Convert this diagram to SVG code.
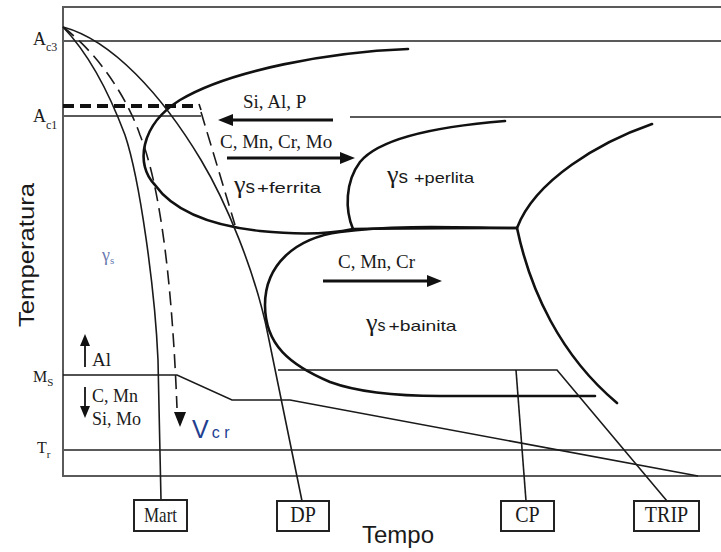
<svg xmlns="http://www.w3.org/2000/svg" width="721" height="552" viewBox="0 0 721 552">
<defs>
<style>
.frame{fill:none;stroke:#5a5a5a;stroke-width:2}
.thick{fill:none;stroke:#111;stroke-width:2.6;stroke-linecap:round}
.thin{fill:none;stroke:#1a1a1a;stroke-width:1.6}
.dash{fill:none;stroke:#1a1a1a;stroke-width:1.6;stroke-dasharray:14,7}
.arr{fill:none;stroke:#111;stroke-width:3}
.head{fill:#111}
.serif{font-family:"Liberation Serif","Times New Roman",serif;fill:#1a1a1a}
.sans{font-family:"Liberation Sans",Arial,sans-serif;fill:#1a1a1a}
.box{fill:#fff;stroke:#222;stroke-width:2}
</style>
</defs>
<rect width="721" height="552" fill="#fff"/>
<!-- frame and reference lines -->
<g id="frame">
<path class="frame" d="M721,7 H63 V476 H721"/>
<path class="frame" d="M63,41 H721"/>
<path class="frame" d="M63,116 H201"/>
<path class="frame" d="M350,117 H721"/>
<path class="frame" d="M63,450 H721"/>
</g>
<!-- transformation curves -->
<g id="curves">
<path class="thick" d="M408,49 C330,52 230,70 180,100 C140,125 135,165 155,185 C175,213 215,226 260,231 C300,235 330,234 353,229"/>
<path class="thick" d="M505,121 C430,127 378,140 360,162 C345,182 345,210 353,229"/>
<path class="thick" d="M353,229 C420,228 480,228 517,228"/>
<path class="thick" d="M517,228 C470,228 400,224 340,232 C295,238 265,265 265,305 C265,345 290,365 330,382 C360,393 400,396 440,396 L595,396"/>
<path class="thick" d="M652,124 C600,142 535,180 517,228 C530,290 560,355 617,403"/>
</g>
<!-- cooling paths / connectors -->
<g id="connectors">
<path d="M63,106 H197" fill="none" stroke="#111" stroke-width="4" stroke-dasharray="11,6"/>
<path d="M199,104 L201,110" fill="none" stroke="#111" stroke-width="1.6"/>
<path class="dash" d="M201,112 L235,225"/>
<path class="thin" d="M63,27 C112,40 162,95 201,160 C225,200 255,270 268,335 L302,501"/>
<path class="thin" d="M63,27 C90,55 110,95 125,135 C140,180 155,290 158,360 L161,500"/>
<path class="dash" d="M63,27 C100,55 128,100 140,135 C160,185 172,280 177,408"/>
<polygon class="head" points="174,412 186,412 180,427"/>
<path class="thin" d="M63,375 H177 L232,400 H290 L698,476"/>
<path class="thin" d="M278,370 H557 L667,501"/>
<path class="thin" d="M516,370 L526,501"/>
<!-- element arrows -->
<path class="arr" d="M333,120 H230"/>
<polygon class="head" points="218,120 233,114 233,126"/>
<path class="arr" d="M227,158 H342"/>
<polygon class="head" points="355,158 340,152 340,164"/>
<path class="arr" d="M323,281 H429"/>
<polygon class="head" points="442,281 427,275 427,287"/>
<path d="M85,367 V344" stroke="#111" stroke-width="1.8"/>
<polygon class="head" points="85,334 80,346 90,346"/>
<path d="M85,387 V408" stroke="#111" stroke-width="1.8"/>
<polygon class="head" points="85,418 80,406 90,406"/>
</g>
<!-- axis labels -->
<g id="labels">
<text class="serif" x="33" y="45" font-size="18">A<tspan font-size="12" dy="6">c3</tspan></text>
<text class="serif" x="33" y="122" font-size="18">A<tspan font-size="12" dy="7">c1</tspan></text>
<text class="serif" x="33" y="382" font-size="16">M<tspan font-size="11" dy="4">S</tspan></text>
<text class="serif" x="37" y="453" font-size="16">T<tspan font-size="11" dy="5">r</tspan></text>
<text class="sans" transform="translate(34,255) rotate(-90)" text-anchor="middle" font-size="22" textLength="144" lengthAdjust="spacingAndGlyphs">Temperatura</text>
<text class="sans" x="398" y="543" text-anchor="middle" font-size="24">Tempo</text>
<text class="serif" x="243" y="108" font-size="19">Si, Al, P</text>
<text class="serif" x="220" y="148" font-size="19">C, Mn, Cr, Mo</text>
<text class="serif" x="338" y="268" font-size="19">C, Mn, Cr</text>
<text class="serif" x="92" y="366" font-size="19">Al</text>
<text class="serif" x="92" y="402" font-size="18">C, Mn</text>
<text class="serif" x="92" y="425" font-size="18">Si, Mo</text>
<text class="serif" x="102" y="261" font-size="18" style="fill:#6a7bb0">γ<tspan font-size="11" dy="3">s</tspan></text>
<text class="serif" x="234" y="193" font-size="26">γ<tspan class="sans" font-size="19">s</tspan><tspan class="sans" font-size="15" dx="2" textLength="64" lengthAdjust="spacingAndGlyphs">+ferrita</tspan></text>
<text class="serif" x="387" y="183" font-size="26">γ<tspan class="sans" font-size="19">s</tspan><tspan class="sans" font-size="15" dx="6" textLength="60" lengthAdjust="spacingAndGlyphs">+perlita</tspan></text>
<text class="serif" x="366" y="331" font-size="26">γ<tspan class="sans" font-size="16">s</tspan><tspan class="sans" font-size="15" dx="3" textLength="68" lengthAdjust="spacingAndGlyphs">+bainita</tspan></text>
<text class="sans" x="192" y="438" font-size="25" style="fill:#23408f">V<tspan font-size="16" dx="3">c r</tspan></text>
</g>
<!-- steel boxes -->
<g id="node-mart">
<rect class="box" x="134" y="500" width="53" height="31"/>
<text class="serif" x="160.5" y="522" text-anchor="middle" font-size="17" transform="translate(0,-104.4) scale(1,1.2)">Mart</text>
</g>
<g id="node-dp">
<rect class="box" x="277" y="501" width="52" height="30"/>
<text class="serif" x="303" y="522" text-anchor="middle" font-size="20" transform="translate(0,-104.4) scale(1,1.2)">DP</text>
</g>
<g id="node-cp">
<rect class="box" x="501" y="501" width="53" height="30"/>
<text class="serif" x="527.5" y="522" text-anchor="middle" font-size="20" transform="translate(0,-104.4) scale(1,1.2)">CP</text>
</g>
<g id="node-trip">
<rect class="box" x="634" y="501" width="65" height="30"/>
<text class="serif" x="666.5" y="522" text-anchor="middle" font-size="20" transform="translate(0,-104.4) scale(1,1.2)">TRIP</text>
</g>
</svg>
